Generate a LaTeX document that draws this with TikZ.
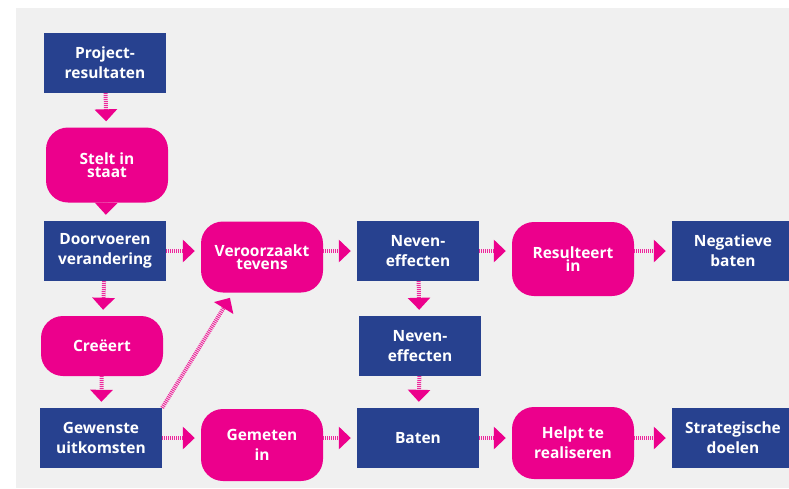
\documentclass[tikz,border=0pt]{standalone}
\usepackage{fontspec}
\setmainfont{Open Sans}
\usetikzlibrary{arrows.meta}
\definecolor{navy}{HTML}{27418F}
\definecolor{magenta}{HTML}{EC008C}
\definecolor{panel}{HTML}{F0F0F0}
\tikzset{
  base/.style={text=white, font=\bfseries\fontsize{15.5}{20}\selectfont, align=center,
    minimum width=122pt, inner sep=2pt},
  blockbox/.style={base, fill=navy, minimum height=60pt},
  actbox/.style={base, fill=magenta, minimum height=73pt, rounded corners=22pt},
  tight/.style={font=\bfseries\fontsize{15.5}{13.5}\selectfont},
  flow/.style={draw=magenta!85, line width=4pt, dash pattern=on 1pt off 1pt,
    -{Triangle[length=12pt,width=22pt,fill=magenta,color=magenta]}, shorten >=6pt},
}
\begin{document}
\begin{tikzpicture}[x=1pt, y=-1pt]
\useasboundingbox (0,0) rectangle (789,488);
\fill[white] (0,0) rectangle (789,488);
\fill[panel] (16,8) rectangle (789,488);

% left column
\node[blockbox] (project) at (105,63) {Project-\\resultaten};
\node[actbox, minimum height=75pt, tight] (stelt) at (107,165) {Stelt in\\staat};
\node[blockbox] (doorvoeren) at (105,251) {Doorvoeren\\verandering};
\node[actbox, minimum height=60pt] (creeert) at (102,346) {Creëert};
\node[blockbox] (gewenste) at (101,438) {Gewenste\\uitkomsten};

% second column
\node[actbox, minimum height=71pt, tight] (veroorzaakt) at (262,257) {Veroorzaakt\\tevens};
\node[actbox, minimum height=72pt] (gemeten) at (262,445) {Gemeten\\in};

% third column
\node[blockbox] (neven) at (418,251) {Neven-\\effecten};
\node[blockbox] (neven2) at (420,346) {Neven-\\effecten};
\node[blockbox] (baten) at (418,438) {Baten};

% fourth column
\node[actbox, minimum height=74pt, tight] (resulteert) at (573,259) {Resulteert\\in};
\node[actbox, minimum height=72pt] (helpt) at (573,443) {Helpt te\\realiseren};

% right column
\node[blockbox] (negatief) at (733,251) {Negatieve\\baten};
\node[blockbox] (strategisch) at (733,438) {Strategische\\doelen};

% connectors
\draw[flow] (project) -- (stelt);
\draw[flow] (stelt) -- (doorvoeren);
\draw[flow] (doorvoeren) -- (creeert);
\draw[flow] (creeert) -- (gewenste);
\draw[flow] (doorvoeren.east) -- (doorvoeren.east -| veroorzaakt.west);
\draw[flow] (gewenste.north east) -- (veroorzaakt.231);
\draw[flow] (gewenste.east) -- (gewenste.east -| gemeten.west);
\draw[flow] (veroorzaakt.east |- neven.west) -- (neven.west);
\draw[flow] (gemeten.east |- baten.west) -- (baten.west);
\draw[flow] (neven) -- (neven2);
\draw[flow] (neven2) -- (baten);
\draw[flow] (neven.east) -- (neven.east -| resulteert.west);
\draw[flow] (baten.east) -- (baten.east -| helpt.west);
\draw[flow] (resulteert.east |- negatief.west) -- (negatief.west);
\draw[flow] (helpt.east |- strategisch.west) -- (strategisch.west);
\end{tikzpicture}
\end{document}
